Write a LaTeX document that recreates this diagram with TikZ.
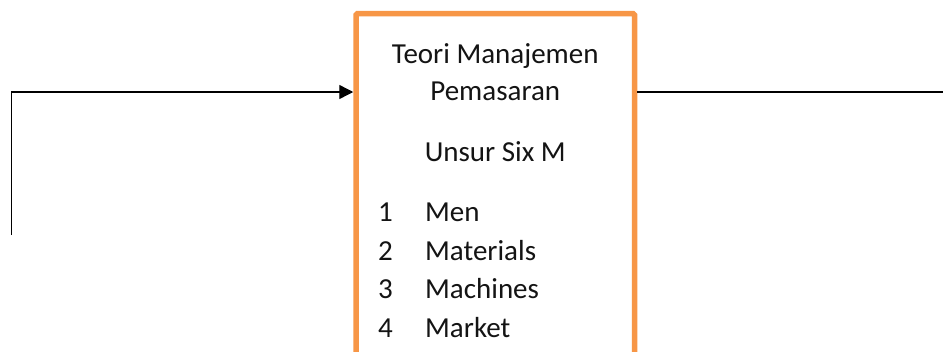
\documentclass[tikz,border=0pt]{standalone}
\usepackage{fontspec}
\setmainfont{Carlito}
\usetikzlibrary{arrows.meta}
\definecolor{boxorange}{HTML}{F79646}
\tikzset{
  x=1pt, y=-1pt,
  frame/.style={draw=boxorange, line width=5.5pt, rounded corners=1.5pt,
    fill=white, anchor=north west, inner sep=0pt},
  link/.style={draw=black, line width=1.4pt},
  label/.style={font=\fontsize{29}{37}\selectfont, inner sep=0pt, text=black!92},
}
\begin{document}
\begin{tikzpicture}
  \useasboundingbox (0,0) rectangle (943,351);

  % main box, open at the bottom edge of the page
  % (anchor sits on the outer edge of the 5.5pt border)
  \node[frame, minimum width=278.5pt, minimum height=420pt] (box) at (353.25,10.75) {};

  % heading
  \node[label, anchor=base] (t1) at (495.25,63) {Teori Manajemen};
  \node[label, anchor=base] (t2) at (495.25,100) {Pemasaran};
  \node[label, anchor=base] (t3) at (495.25,161) {Unsur Six M};

  % numbered list
  \node[label, anchor=base west] (n1) at (378,221) {1};
  \node[label, anchor=base west] (m1) at (425,221) {Men};
  \node[label, anchor=base west] (n2) at (378,260) {2};
  \node[label, anchor=base west] (m2) at (425,260) {Materials};
  \node[label, anchor=base west] (n3) at (378,298) {3};
  \node[label, anchor=base west] (m3) at (425,298) {Machines};
  \node[label, anchor=base west] (n4) at (378,337) {4};
  \node[label, anchor=base west] (m4) at (425,337) {Market};

  % connectors
  \coordinate (src) at (11.5,235);
  \coordinate (dst) at (943,92);
  \draw[link, -{Triangle[length=14pt,width=14pt]}]
    (src) |- ([yshift=-81.25pt]box.north west);
  \draw[link] ([yshift=-81.25pt]box.north east) -- (dst);
\end{tikzpicture}
\end{document}
